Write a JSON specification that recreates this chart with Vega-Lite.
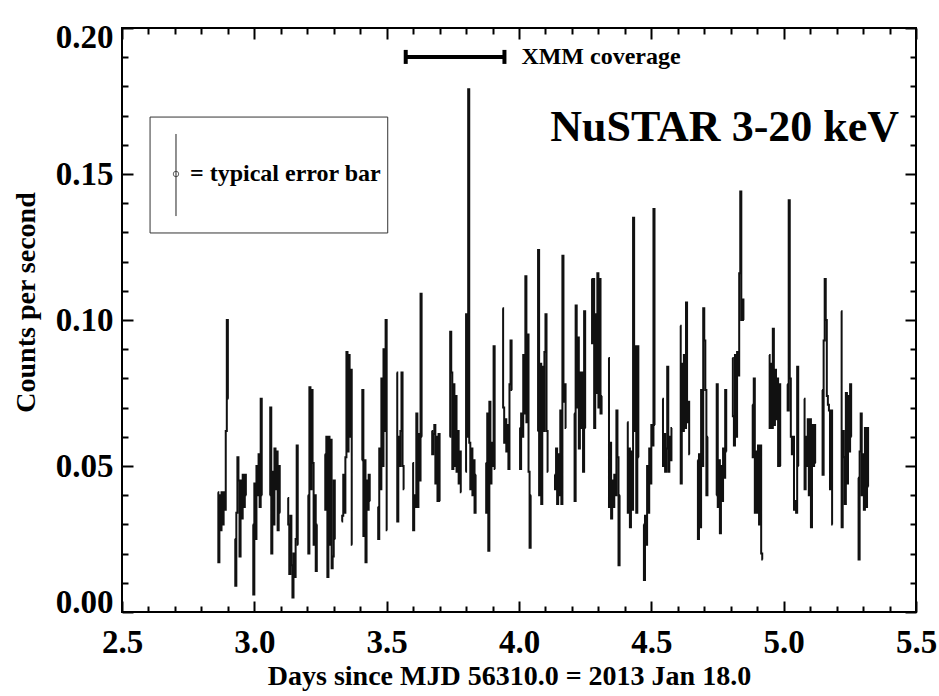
{
"$schema": "https://vega.github.io/schema/vega-lite/v6.json",
"width": 794, "height": 584,
"autosize": {"type": "none"},
"padding": {"left": 122, "top": 28, "right": 23, "bottom": 84},
"background": "white",
"config": {"view": {"stroke": "black", "strokeWidth": 2}, "font": "Liberation Serif"},
"datasets": {
"curve": [
{"o":1,"t":2.862,"r":0.041},{"o":1,"t":2.866,"r":0.017},{"o":1,"t":2.870,"r":0.040},{"o":1,"t":2.874,"r":0.028},{"o":1,"t":2.878,"r":0.041},{"o":1,"t":2.882,"r":0.030},{"o":1,"t":2.886,"r":0.041},{"o":1,"t":2.890,"r":0.035},{"o":1,"t":2.894,"r":0.062},{"o":1,"t":2.898,"r":0.100},{"o":1,"t":2.902,"r":0.073},
{"o":2,"t":2.926,"r":0.025},{"o":2,"t":2.930,"r":0.009},{"o":2,"t":2.934,"r":0.034},{"o":2,"t":2.938,"r":0.053},{"o":2,"t":2.942,"r":0.045},{"o":2,"t":2.946,"r":0.019},{"o":2,"t":2.950,"r":0.045},{"o":2,"t":2.954,"r":0.032},{"o":2,"t":2.958,"r":0.047},{"o":2,"t":2.962,"r":0.036},{"o":2,"t":2.966,"r":0.047},{"o":2,"t":2.970,"r":0.040},
{"o":3,"t":2.994,"r":0.030},{"o":3,"t":2.998,"r":0.006},{"o":3,"t":3.002,"r":0.044},{"o":3,"t":3.006,"r":0.025},{"o":3,"t":3.010,"r":0.050},{"o":3,"t":3.014,"r":0.040},{"o":3,"t":3.018,"r":0.054},{"o":3,"t":3.022,"r":0.036},{"o":3,"t":3.026,"r":0.073},{"o":3,"t":3.030,"r":0.040},
{"o":4,"t":3.058,"r":0.040},{"o":4,"t":3.062,"r":0.070},{"o":4,"t":3.066,"r":0.020},{"o":4,"t":3.070,"r":0.048},{"o":4,"t":3.074,"r":0.030},{"o":4,"t":3.078,"r":0.056},{"o":4,"t":3.082,"r":0.042},{"o":4,"t":3.086,"r":0.055},{"o":4,"t":3.090,"r":0.028},{"o":4,"t":3.094,"r":0.050},{"o":4,"t":3.098,"r":0.034},
{"o":5,"t":3.126,"r":0.039},{"o":5,"t":3.130,"r":0.030},{"o":5,"t":3.134,"r":0.013},{"o":5,"t":3.138,"r":0.033},{"o":5,"t":3.142,"r":0.016},{"o":5,"t":3.146,"r":0.005},{"o":5,"t":3.150,"r":0.020},{"o":5,"t":3.154,"r":0.012},{"o":5,"t":3.158,"r":0.025},{"o":5,"t":3.162,"r":0.057},{"o":5,"t":3.166,"r":0.023},
{"o":6,"t":3.202,"r":0.040},{"o":6,"t":3.206,"r":0.020},{"o":6,"t":3.210,"r":0.077},{"o":6,"t":3.214,"r":0.042},{"o":6,"t":3.218,"r":0.076},{"o":6,"t":3.222,"r":0.051},{"o":6,"t":3.226,"r":0.023},{"o":6,"t":3.230,"r":0.040},{"o":6,"t":3.234,"r":0.014},{"o":6,"t":3.238,"r":0.030},
{"o":7,"t":3.266,"r":0.054},{"o":7,"t":3.270,"r":0.035},{"o":7,"t":3.274,"r":0.060},{"o":7,"t":3.278,"r":0.012},{"o":7,"t":3.282,"r":0.060},{"o":7,"t":3.286,"r":0.023},{"o":7,"t":3.290,"r":0.059},{"o":7,"t":3.294,"r":0.015},{"o":7,"t":3.298,"r":0.019},{"o":7,"t":3.302,"r":0.045},{"o":7,"t":3.306,"r":0.025},
{"o":8,"t":3.330,"r":0.031},{"o":8,"t":3.334,"r":0.033},{"o":8,"t":3.338,"r":0.047},{"o":8,"t":3.342,"r":0.034},{"o":8,"t":3.346,"r":0.053},{"o":8,"t":3.350,"r":0.089},{"o":8,"t":3.354,"r":0.055},{"o":8,"t":3.358,"r":0.088},{"o":8,"t":3.362,"r":0.060},{"o":8,"t":3.366,"r":0.083},{"o":8,"t":3.370,"r":0.023},
{"o":9,"t":3.406,"r":0.052},{"o":9,"t":3.410,"r":0.076},{"o":9,"t":3.414,"r":0.026},{"o":9,"t":3.418,"r":0.052},{"o":9,"t":3.422,"r":0.017},{"o":9,"t":3.426,"r":0.045},{"o":9,"t":3.430,"r":0.035},{"o":9,"t":3.434,"r":0.047},{"o":9,"t":3.438,"r":0.038},
{"o":10,"t":3.466,"r":0.036},{"o":10,"t":3.470,"r":0.025},{"o":10,"t":3.474,"r":0.056},{"o":10,"t":3.478,"r":0.042},{"o":10,"t":3.482,"r":0.080},{"o":10,"t":3.486,"r":0.050},{"o":10,"t":3.490,"r":0.090},{"o":10,"t":3.494,"r":0.062},{"o":10,"t":3.498,"r":0.100},{"o":10,"t":3.502,"r":0.028},
{"o":11,"t":3.538,"r":0.082},{"o":11,"t":3.542,"r":0.031},{"o":11,"t":3.546,"r":0.060},{"o":11,"t":3.550,"r":0.050},{"o":11,"t":3.554,"r":0.062},{"o":11,"t":3.558,"r":0.082},{"o":11,"t":3.562,"r":0.050},{"o":11,"t":3.566,"r":0.042},
{"o":12,"t":3.598,"r":0.051},{"o":12,"t":3.602,"r":0.028},{"o":12,"t":3.606,"r":0.040},{"o":12,"t":3.610,"r":0.036},{"o":12,"t":3.614,"r":0.068},{"o":12,"t":3.618,"r":0.036},{"o":12,"t":3.622,"r":0.061},{"o":12,"t":3.626,"r":0.045},{"o":12,"t":3.630,"r":0.109},{"o":12,"t":3.634,"r":0.060},
{"o":13,"t":3.670,"r":0.062},{"o":13,"t":3.674,"r":0.054},{"o":13,"t":3.678,"r":0.061},{"o":13,"t":3.682,"r":0.064},{"o":13,"t":3.686,"r":0.044},{"o":13,"t":3.690,"r":0.060},{"o":13,"t":3.694,"r":0.038},{"o":13,"t":3.698,"r":0.061},{"o":13,"t":3.702,"r":0.038},
{"o":14,"t":3.738,"r":0.060},{"o":14,"t":3.742,"r":0.096},{"o":14,"t":3.746,"r":0.082},{"o":14,"t":3.750,"r":0.049},{"o":14,"t":3.754,"r":0.078},{"o":14,"t":3.758,"r":0.050},{"o":14,"t":3.762,"r":0.074},{"o":14,"t":3.766,"r":0.048},{"o":14,"t":3.770,"r":0.062},{"o":14,"t":3.774,"r":0.044},{"o":14,"t":3.778,"r":0.055},{"o":14,"t":3.782,"r":0.041},
{"o":15,"t":3.798,"r":0.048},{"o":15,"t":3.802,"r":0.102},{"o":15,"t":3.806,"r":0.060},{"o":15,"t":3.810,"r":0.179},{"o":15,"t":3.814,"r":0.058},{"o":15,"t":3.818,"r":0.042},{"o":15,"t":3.822,"r":0.056},{"o":15,"t":3.826,"r":0.040},{"o":15,"t":3.830,"r":0.052},{"o":15,"t":3.834,"r":0.034},{"o":15,"t":3.838,"r":0.047},
{"o":16,"t":3.874,"r":0.051},{"o":16,"t":3.878,"r":0.034},{"o":16,"t":3.882,"r":0.068},{"o":16,"t":3.886,"r":0.021},{"o":16,"t":3.890,"r":0.072},{"o":16,"t":3.894,"r":0.044},{"o":16,"t":3.898,"r":0.058},{"o":16,"t":3.902,"r":0.050},{"o":16,"t":3.906,"r":0.091},{"o":16,"t":3.910,"r":0.049},
{"o":17,"t":3.938,"r":0.104},{"o":17,"t":3.942,"r":0.070},{"o":17,"t":3.946,"r":0.058},{"o":17,"t":3.950,"r":0.066},{"o":17,"t":3.954,"r":0.055},{"o":17,"t":3.958,"r":0.064},{"o":17,"t":3.962,"r":0.049},{"o":17,"t":3.966,"r":0.078},{"o":17,"t":3.970,"r":0.093},{"o":17,"t":3.974,"r":0.076},
{"o":18,"t":4.002,"r":0.063},{"o":18,"t":4.006,"r":0.049},{"o":18,"t":4.010,"r":0.068},{"o":18,"t":4.014,"r":0.060},{"o":18,"t":4.018,"r":0.088},{"o":18,"t":4.022,"r":0.068},{"o":18,"t":4.026,"r":0.115},{"o":18,"t":4.030,"r":0.065},{"o":18,"t":4.034,"r":0.095},{"o":18,"t":4.038,"r":0.048},{"o":18,"t":4.042,"r":0.022},{"o":18,"t":4.046,"r":0.040},
{"o":19,"t":4.070,"r":0.062},{"o":19,"t":4.074,"r":0.124},{"o":19,"t":4.078,"r":0.040},{"o":19,"t":4.082,"r":0.085},{"o":19,"t":4.086,"r":0.037},{"o":19,"t":4.090,"r":0.084},{"o":19,"t":4.094,"r":0.062},{"o":19,"t":4.098,"r":0.089},{"o":19,"t":4.102,"r":0.102},{"o":19,"t":4.106,"r":0.062},{"o":19,"t":4.110,"r":0.048},
{"o":20,"t":4.134,"r":0.047},{"o":20,"t":4.138,"r":0.042},{"o":20,"t":4.142,"r":0.056},{"o":20,"t":4.146,"r":0.037},{"o":20,"t":4.150,"r":0.054},{"o":20,"t":4.154,"r":0.040},{"o":20,"t":4.158,"r":0.069},{"o":20,"t":4.162,"r":0.037},{"o":20,"t":4.166,"r":0.122},{"o":20,"t":4.170,"r":0.072},{"o":20,"t":4.174,"r":0.078},{"o":20,"t":4.178,"r":0.063},
{"o":21,"t":4.208,"r":0.068},{"o":21,"t":4.212,"r":0.038},{"o":21,"t":4.216,"r":0.105},{"o":21,"t":4.220,"r":0.070},{"o":21,"t":4.224,"r":0.094},{"o":21,"t":4.228,"r":0.056},{"o":21,"t":4.232,"r":0.082},{"o":21,"t":4.236,"r":0.063},{"o":21,"t":4.240,"r":0.082},{"o":21,"t":4.244,"r":0.048},{"o":21,"t":4.248,"r":0.103},{"o":21,"t":4.252,"r":0.063},
{"o":22,"t":4.274,"r":0.114},{"o":22,"t":4.278,"r":0.092},{"o":22,"t":4.282,"r":0.114},{"o":22,"t":4.286,"r":0.063},{"o":22,"t":4.290,"r":0.102},{"o":22,"t":4.294,"r":0.075},{"o":22,"t":4.298,"r":0.116},{"o":22,"t":4.302,"r":0.070},{"o":22,"t":4.306,"r":0.114},{"o":22,"t":4.310,"r":0.068},{"o":22,"t":4.314,"r":0.074},
{"o":23,"t":4.338,"r":0.087},{"o":23,"t":4.342,"r":0.036},{"o":23,"t":4.346,"r":0.058},{"o":23,"t":4.350,"r":0.032},{"o":23,"t":4.354,"r":0.045},{"o":23,"t":4.358,"r":0.036},{"o":23,"t":4.362,"r":0.047},{"o":23,"t":4.366,"r":0.040},{"o":23,"t":4.370,"r":0.069},{"o":23,"t":4.374,"r":0.053},{"o":23,"t":4.378,"r":0.016},{"o":23,"t":4.382,"r":0.040},
{"o":24,"t":4.409,"r":0.065},{"o":24,"t":4.413,"r":0.034},{"o":24,"t":4.417,"r":0.056},{"o":24,"t":4.421,"r":0.029},{"o":24,"t":4.425,"r":0.055},{"o":24,"t":4.429,"r":0.035},{"o":24,"t":4.433,"r":0.135},{"o":24,"t":4.437,"r":0.062},{"o":24,"t":4.441,"r":0.091},{"o":24,"t":4.445,"r":0.034},{"o":24,"t":4.449,"r":0.091},{"o":24,"t":4.453,"r":0.053},
{"o":25,"t":4.470,"r":0.030},{"o":25,"t":4.474,"r":0.011},{"o":25,"t":4.478,"r":0.033},{"o":25,"t":4.482,"r":0.023},{"o":25,"t":4.486,"r":0.050},{"o":25,"t":4.490,"r":0.034},{"o":25,"t":4.494,"r":0.056},{"o":25,"t":4.498,"r":0.044},{"o":25,"t":4.502,"r":0.064},{"o":25,"t":4.506,"r":0.057},{"o":25,"t":4.510,"r":0.138},{"o":25,"t":4.514,"r":0.064},
{"o":26,"t":4.542,"r":0.073},{"o":26,"t":4.546,"r":0.050},{"o":26,"t":4.550,"r":0.061},{"o":26,"t":4.554,"r":0.048},{"o":26,"t":4.558,"r":0.056},{"o":26,"t":4.562,"r":0.084},{"o":26,"t":4.566,"r":0.048},{"o":26,"t":4.570,"r":0.060},{"o":26,"t":4.574,"r":0.052},{"o":26,"t":4.578,"r":0.063},
{"o":27,"t":4.609,"r":0.098},{"o":27,"t":4.613,"r":0.044},{"o":27,"t":4.617,"r":0.085},{"o":27,"t":4.621,"r":0.062},{"o":27,"t":4.625,"r":0.088},{"o":27,"t":4.629,"r":0.063},{"o":27,"t":4.633,"r":0.106},{"o":27,"t":4.637,"r":0.065},{"o":27,"t":4.641,"r":0.072},{"o":27,"t":4.645,"r":0.054},
{"o":28,"t":4.674,"r":0.052},{"o":28,"t":4.678,"r":0.025},{"o":28,"t":4.682,"r":0.054},{"o":28,"t":4.686,"r":0.029},{"o":28,"t":4.690,"r":0.076},{"o":28,"t":4.694,"r":0.050},{"o":28,"t":4.698,"r":0.104},{"o":28,"t":4.702,"r":0.093},{"o":28,"t":4.706,"r":0.076},{"o":28,"t":4.710,"r":0.040},{"o":28,"t":4.714,"r":0.060},
{"o":29,"t":4.745,"r":0.040},{"o":29,"t":4.749,"r":0.078},{"o":29,"t":4.753,"r":0.036},{"o":29,"t":4.757,"r":0.052},{"o":29,"t":4.761,"r":0.027},{"o":29,"t":4.765,"r":0.050},{"o":29,"t":4.769,"r":0.038},{"o":29,"t":4.773,"r":0.056},{"o":29,"t":4.777,"r":0.046},{"o":29,"t":4.781,"r":0.076},{"o":29,"t":4.785,"r":0.055},
{"o":30,"t":4.806,"r":0.087},{"o":30,"t":4.810,"r":0.067},{"o":30,"t":4.814,"r":0.057},{"o":30,"t":4.818,"r":0.088},{"o":30,"t":4.822,"r":0.060},{"o":30,"t":4.826,"r":0.089},{"o":30,"t":4.830,"r":0.081},{"o":30,"t":4.834,"r":0.116},{"o":30,"t":4.838,"r":0.144},{"o":30,"t":4.842,"r":0.100},{"o":30,"t":4.846,"r":0.107},{"o":30,"t":4.850,"r":0.100},
{"o":31,"t":4.881,"r":0.071},{"o":31,"t":4.885,"r":0.053},{"o":31,"t":4.889,"r":0.080},{"o":31,"t":4.893,"r":0.034},{"o":31,"t":4.897,"r":0.055},{"o":31,"t":4.901,"r":0.034},{"o":31,"t":4.905,"r":0.057},{"o":31,"t":4.909,"r":0.030},{"o":31,"t":4.913,"r":0.057},{"o":31,"t":4.917,"r":0.020},{"o":31,"t":4.921,"r":0.018},
{"o":32,"t":4.945,"r":0.088},{"o":32,"t":4.949,"r":0.063},{"o":32,"t":4.953,"r":0.085},{"o":32,"t":4.957,"r":0.063},{"o":32,"t":4.961,"r":0.097},{"o":32,"t":4.965,"r":0.064},{"o":32,"t":4.969,"r":0.083},{"o":32,"t":4.973,"r":0.066},{"o":32,"t":4.977,"r":0.080},{"o":32,"t":4.981,"r":0.050},{"o":32,"t":4.985,"r":0.078},{"o":32,"t":4.989,"r":0.050},
{"o":33,"t":5.013,"r":0.078},{"o":33,"t":5.017,"r":0.069},{"o":33,"t":5.021,"r":0.141},{"o":33,"t":5.025,"r":0.080},{"o":33,"t":5.029,"r":0.060},{"o":33,"t":5.033,"r":0.054},{"o":33,"t":5.037,"r":0.060},{"o":33,"t":5.041,"r":0.035},{"o":33,"t":5.045,"r":0.038},{"o":33,"t":5.049,"r":0.034},{"o":33,"t":5.053,"r":0.084},{"o":33,"t":5.057,"r":0.050},
{"o":34,"t":5.077,"r":0.073},{"o":34,"t":5.081,"r":0.042},{"o":34,"t":5.085,"r":0.060},{"o":34,"t":5.089,"r":0.050},{"o":34,"t":5.093,"r":0.066},{"o":34,"t":5.097,"r":0.040},{"o":34,"t":5.101,"r":0.066},{"o":34,"t":5.105,"r":0.029},{"o":34,"t":5.109,"r":0.064},{"o":34,"t":5.113,"r":0.050},{"o":34,"t":5.117,"r":0.064},{"o":34,"t":5.121,"r":0.051},
{"o":35,"t":5.145,"r":0.076},{"o":35,"t":5.149,"r":0.047},{"o":35,"t":5.153,"r":0.093},{"o":35,"t":5.157,"r":0.114},{"o":35,"t":5.161,"r":0.100},{"o":35,"t":5.165,"r":0.074},{"o":35,"t":5.169,"r":0.071},{"o":35,"t":5.173,"r":0.069},{"o":35,"t":5.177,"r":0.042},{"o":35,"t":5.181,"r":0.069},{"o":35,"t":5.185,"r":0.030},
{"o":36,"t":5.217,"r":0.103},{"o":36,"t":5.221,"r":0.029},{"o":36,"t":5.225,"r":0.062},{"o":36,"t":5.229,"r":0.053},{"o":36,"t":5.233,"r":0.037},{"o":36,"t":5.237,"r":0.075},{"o":36,"t":5.241,"r":0.044},{"o":36,"t":5.245,"r":0.074},{"o":36,"t":5.249,"r":0.055},{"o":36,"t":5.253,"r":0.078},{"o":36,"t":5.257,"r":0.060},
{"o":37,"t":5.281,"r":0.046},{"o":37,"t":5.285,"r":0.018},{"o":37,"t":5.289,"r":0.055},{"o":37,"t":5.293,"r":0.068},{"o":37,"t":5.297,"r":0.040},{"o":37,"t":5.301,"r":0.054},{"o":37,"t":5.305,"r":0.035},{"o":37,"t":5.309,"r":0.063},{"o":37,"t":5.313,"r":0.036},{"o":37,"t":5.317,"r":0.063},{"o":37,"t":5.321,"r":0.043}
],
"box": [{"t":2.606,"t2":3.504,"r":0.1298,"r2":0.1695}],
"errbar": [{"t":2.704,"r":0.150,"lo":0.1356,"hi":0.1637}],
"xmm": [{"t":3.572,"t2":3.945,"r":0.1901}],
"caps": [{"t":3.572,"lo":0.1877,"hi":0.1925},{"t":3.945,"lo":0.1877,"hi":0.1925}],
"notes": [{"t":5.436,"r":0.1613,"label":"NuSTAR 3-20 keV","k":"big"},{"t":4.009,"r":0.1901,"label":"XMM coverage","k":"xmm"},{"t":2.757,"r":0.150,"label":"= typical error bar","k":"err"}]
},
"layer": [
{"data": {"name": "curve"},
 "mark": {"type": "line", "interpolate": "step", "color": "#111111", "strokeWidth": 2},
 "encoding": {
  "x": {"field": "t", "type": "quantitative", "scale": {"domain": [2.5, 5.5], "nice": false, "zero": false},
   "axis": {"orient": "bottom", "values": [2.5,2.6,2.7,2.8,2.9,3.0,3.1,3.2,3.3,3.4,3.5,3.6,3.7,3.8,3.9,4.0,4.1,4.2,4.3,4.4,4.5,4.6,4.7,4.8,4.9,5.0,5.1,5.2,5.3,5.4,5.5],
    "labelExpr": "abs(datum.value*2-round(datum.value*2))<0.001 ? format(datum.value,'.1f') : ''",
    "tickSize": {"condition": {"test": "abs(datum.value*2-round(datum.value*2))<0.001", "value": -11}, "value": -6},
    "tickWidth": 2, "tickColor": "black", "domain": false, "grid": false,
    "labelFont": "Liberation Serif", "labelFontSize": 33, "labelFontWeight": "bold", "labelColor": "black", "labelPadding": 25, "labelFlush": false, "labelOverlap": false,
    "title": "Days since MJD 56310.0 = 2013 Jan 18.0", "titleFont": "Liberation Serif", "titleFontSize": 28, "titleFontWeight": "bold", "titleColor": "black", "titlePadding": -2, "titleX": 387}},
  "y": {"field": "r", "type": "quantitative", "scale": {"domain": [0, 0.2], "nice": false, "zero": false},
   "axis": {"orient": "left", "values": [0,0.01,0.02,0.03,0.04,0.05,0.06,0.07,0.08,0.09,0.1,0.11,0.12,0.13,0.14,0.15,0.16,0.17,0.18,0.19,0.2],
    "labelExpr": "abs(datum.value*20-round(datum.value*20))<0.001 ? format(datum.value,'.2f') : ''",
    "tickSize": {"condition": {"test": "abs(datum.value*20-round(datum.value*20))<0.001", "value": -11}, "value": -6},
    "tickWidth": 2, "tickColor": "black", "domain": false, "grid": false,
    "labelFont": "Liberation Serif", "labelFontSize": 33, "labelFontWeight": "bold", "labelColor": "black", "labelPadding": 20, "labelFlush": true, "labelFlushOffset": 7, "labelOverlap": false,
    "title": "Counts per second", "titleFont": "Liberation Serif", "titleFontSize": 28, "titleFontWeight": "bold", "titleColor": "black", "titlePadding": 15, "titleY": 274}},
  "detail": {"field": "o", "type": "nominal"}
 }},
{"data": {"name": "xmm"},
 "mark": {"type": "rule", "color": "black", "strokeWidth": 4},
 "encoding": {
  "x": {"field": "t", "type": "quantitative",
   "axis": {"orient": "top", "values": [2.5,2.6,2.7,2.8,2.9,3.0,3.1,3.2,3.3,3.4,3.5,3.6,3.7,3.8,3.9,4.0,4.1,4.2,4.3,4.4,4.5,4.6,4.7,4.8,4.9,5.0,5.1,5.2,5.3,5.4,5.5],
    "labels": false, "title": null, "domain": false, "grid": false, "tickWidth": 2, "tickColor": "black",
    "tickSize": {"condition": {"test": "abs(datum.value*2-round(datum.value*2))<0.001", "value": -11}, "value": -6}}},
  "x2": {"field": "t2"},
  "y": {"field": "r", "type": "quantitative",
   "axis": {"orient": "right", "values": [0,0.01,0.02,0.03,0.04,0.05,0.06,0.07,0.08,0.09,0.1,0.11,0.12,0.13,0.14,0.15,0.16,0.17,0.18,0.19,0.2],
    "labels": false, "title": null, "domain": false, "grid": false, "tickWidth": 2, "tickColor": "black",
    "tickSize": {"condition": {"test": "abs(datum.value*20-round(datum.value*20))<0.001", "value": -11}, "value": -6}}}
 }},
{"data": {"name": "caps"},
 "mark": {"type": "rule", "color": "black", "strokeWidth": 4},
 "encoding": {
  "x": {"field": "t", "type": "quantitative", "axis": null},
  "y": {"field": "lo", "type": "quantitative", "axis": null},
  "y2": {"field": "hi"}
 }},
{"data": {"name": "box"},
 "mark": {"type": "rect", "fill": "white", "fillOpacity": 0, "stroke": "#333333", "strokeWidth": 1},
 "encoding": {
  "x": {"field": "t", "type": "quantitative", "axis": null},
  "x2": {"field": "t2"},
  "y": {"field": "r", "type": "quantitative", "axis": null},
  "y2": {"field": "r2"}
 }},
{"data": {"name": "errbar"},
 "mark": {"type": "rule", "color": "#222222", "strokeWidth": 1},
 "encoding": {
  "x": {"field": "t", "type": "quantitative", "axis": null},
  "y": {"field": "lo", "type": "quantitative", "axis": null},
  "y2": {"field": "hi"}
 }},
{"data": {"name": "errbar"},
 "mark": {"type": "point", "shape": "circle", "filled": false, "color": "#222222", "size": 30, "strokeWidth": 1},
 "encoding": {
  "x": {"field": "t", "type": "quantitative", "axis": null},
  "y": {"field": "r", "type": "quantitative", "axis": null}
 }},
{"data": {"name": "notes"},
 "transform": [{"filter": "datum.k == 'big'"}],
 "mark": {"type": "text", "align": "right", "baseline": "alphabetic", "font": "Liberation Serif", "fontSize": 44, "fontWeight": "bold", "color": "black"},
 "encoding": {
  "x": {"field": "t", "type": "quantitative", "axis": null},
  "y": {"field": "r", "type": "quantitative", "axis": null},
  "text": {"field": "label"}
 }},
{"data": {"name": "notes"},
 "transform": [{"filter": "datum.k == 'xmm'"}],
 "mark": {"type": "text", "align": "left", "baseline": "middle", "font": "Liberation Serif", "fontSize": 24, "fontWeight": "bold", "color": "black"},
 "encoding": {
  "x": {"field": "t", "type": "quantitative", "axis": null},
  "y": {"field": "r", "type": "quantitative", "axis": null},
  "text": {"field": "label"}
 }},
{"data": {"name": "notes"},
 "transform": [{"filter": "datum.k == 'err'"}],
 "mark": {"type": "text", "align": "left", "baseline": "middle", "font": "Liberation Serif", "fontSize": 24, "fontWeight": "bold", "color": "black"},
 "encoding": {
  "x": {"field": "t", "type": "quantitative", "axis": null},
  "y": {"field": "r", "type": "quantitative", "axis": null},
  "text": {"field": "label"}
 }}
],
"resolve": {"axis": {"x": "independent", "y": "independent"}}
}
